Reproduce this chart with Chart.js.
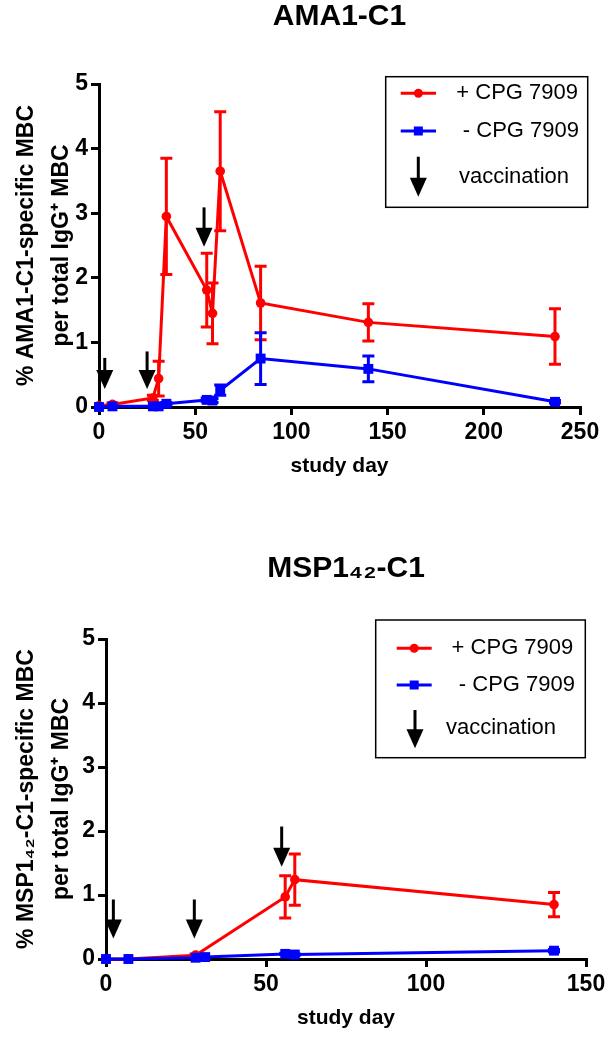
<!DOCTYPE html>
<html>
<head>
<meta charset="utf-8">
<script src="https://cdn.jsdelivr.net/npm/chart.js@4.4.1/dist/chart.umd.min.js"></script>
<style>
html,body{margin:0;padding:0;background:#fff;}
canvas{display:block;}
</style>
</head>
<body>
<canvas id="ama" width="614" height="525"></canvas>
<canvas id="msp" width="614" height="525"></canvas>
<script>
// ---------- text ----------
const amaTitle = 'AMA1-C1';
const amaYTitle = ['% AMA1-C1-specific MBC', 'per total IgG\u207A MBC'];
const mspTitle = 'MSP1\u2084\u2082-C1';
const mspYTitle = ['% MSP1\u2084\u2082-C1-specific MBC', 'per total IgG\u207A MBC'];
const xTitle = 'study day';
const legendLabels = ['+ CPG 7909', '- CPG 7909', 'vaccination'];

// ---------- AMA1-C1 data ----------
const amaXTicks = [0, 50, 100, 150, 200, 250];
const amaYTicks = [0, 1, 2, 3, 4, 5];
const amaPlusDays = [0, 7, 28, 31, 35, 56, 59, 63, 84, 140, 237];
const amaPlusMean = [0.02, 0.04, 0.14, 0.44, 2.95, 1.81, 1.45, 3.65, 1.61, 1.31, 1.09];
const amaPlusSem  = [0, 0.02, 0.04, 0.27, 0.90, 0.57, 0.47, 0.92, 0.57, 0.29, 0.43];
const amaMinusDays = [0, 7, 28, 31, 35, 56, 59, 63, 84, 140, 237];
const amaMinusMean = [0, 0.01, 0.01, 0.01, 0.05, 0.11, 0.10, 0.26, 0.75, 0.59, 0.08];
const amaMinusSem  = [0, 0, 0, 0, 0.02, 0.03, 0.03, 0.08, 0.40, 0.20, 0.02];
const amaVaccDays = [3, 25, 54.6];
const amaVaccTop  = [0.76, 0.86, 3.09];
const amaVaccTip  = [0.28, 0.28, 2.48];

// ---------- MSP1-42-C1 data ----------
const mspXTicks = [0, 50, 100, 150];
const mspYTicks = [0, 1, 2, 3, 4, 5];
const mspPlusDays = [0, 7, 28, 56, 59, 140];
const mspPlusMean = [0, 0, 0.06, 0.97, 1.24, 0.85];
const mspPlusSem  = [0, 0, 0.02, 0.33, 0.40, 0.19];
const mspMinusDays = [0, 7, 28, 31, 56, 59, 140];
const mspMinusMean = [0, 0, 0.02, 0.03, 0.08, 0.07, 0.13];
const mspMinusSem  = [0, 0, 0, 0, 0.01, 0.01, 0.02];
const mspVaccDays = [2.3, 27.6, 54.9];
const mspVaccTop  = [0.93, 0.93, 2.07];
const mspVaccTip  = [0.32, 0.32, 1.44];

const RED = '#FF0000';
const BLUE = '#0000FF';
const FONT = "'Liberation Sans', Arial, Helvetica, sans-serif";
Chart.defaults.font.family = FONT;
Chart.defaults.color = '#000';

function pts(days, vals) { return days.map((d, i) => ({x: d, y: vals[i]})); }

// ---------- plugins ----------
const errorBarPlugin = {
  id: 'errorBars',
  beforeDatasetDraw(chart, args) {
    const ds = chart.data.datasets[args.index];
    if (!ds.sem) return;
    const xs = chart.scales.x, ys = chart.scales.y, ctx = chart.ctx;
    ctx.save();
    ctx.strokeStyle = ds.borderColor;
    ctx.lineWidth = 3;
    ds.data.forEach((p, i) => {
      const e = ds.sem[i];
      if (!e) return;
      const x = xs.getPixelForValue(p.x);
      const yHi = ys.getPixelForValue(p.y + e);
      const yLo = ys.getPixelForValue(Math.max(0, p.y - e));
      ctx.beginPath();
      ctx.moveTo(x, yHi); ctx.lineTo(x, yLo);
      ctx.moveTo(x - 6, yHi); ctx.lineTo(x + 6, yHi);
      ctx.moveTo(x - 6, yLo); ctx.lineTo(x + 6, yLo);
      ctx.stroke();
    });
    ctx.restore();
  }
};

function drawArrow(ctx, x, y1, y2) {
  const headH = 19, headW = 8.5;
  ctx.beginPath();
  ctx.moveTo(x, y1);
  ctx.lineTo(x, y2 - headH + 2);
  ctx.stroke();
  ctx.beginPath();
  ctx.moveTo(x - headW, y2 - headH);
  ctx.lineTo(x + headW, y2 - headH);
  ctx.lineTo(x, y2);
  ctx.closePath();
  ctx.fill();
}

const arrowPlugin = {
  id: 'vaccArrows',
  afterDatasetsDraw(chart, args, o) {
    const xs = chart.scales.x, ys = chart.scales.y, ctx = chart.ctx;
    ctx.save();
    ctx.strokeStyle = '#000'; ctx.fillStyle = '#000'; ctx.lineWidth = 3;
    o.days.forEach((d, i) => {
      drawArrow(ctx, xs.getPixelForValue(d), ys.getPixelForValue(o.top[i]), ys.getPixelForValue(o.tip[i]));
    });
    ctx.restore();
  }
};

const boxLegendPlugin = {
  id: 'boxLegend',
  afterDraw(chart, args, o) {
    const ctx = chart.ctx;
    ctx.save();
    ctx.strokeStyle = '#000'; ctx.lineWidth = 1.5;
    ctx.strokeRect(o.box[0], o.box[1], o.box[2] - o.box[0], o.box[3] - o.box[1]);
    const dsets = chart.data.datasets;
    const mid = (o.lineX[0] + o.lineX[1]) / 2;
    [0, 1].forEach(k => {
      const ds = dsets[k];
      const y = o.rows[k];
      ctx.strokeStyle = ds.borderColor; ctx.lineWidth = 3;
      ctx.beginPath(); ctx.moveTo(o.lineX[0], y); ctx.lineTo(o.lineX[1], y); ctx.stroke();
      ctx.fillStyle = ds.borderColor;
      if (ds.pointStyle === 'rect') {
        ctx.fillRect(mid - 4.5, y - 4.5, 9, 9);
      } else {
        ctx.beginPath(); ctx.arc(mid, y, 4.5, 0, Math.PI * 2); ctx.fill();
      }
    });
    ctx.fillStyle = '#000';
    ctx.font = '22px ' + FONT;
    ctx.textBaseline = 'middle';
    ctx.textAlign = 'right';
    ctx.fillText(o.labels[0], o.textRight[0], o.rows[0]);
    ctx.fillText(o.labels[1], o.textRight[1], o.rows[1]);
    ctx.textAlign = 'left';
    ctx.fillText(o.labels[2], o.textLeft, o.rows[2]);
    ctx.strokeStyle = '#000'; ctx.fillStyle = '#000'; ctx.lineWidth = 3;
    drawArrow(ctx, o.arrowX, o.arrowY[0], o.arrowY[1]);
    ctx.restore();
  }
};

function makeChart(id, cfg) {
  return new Chart(document.getElementById(id), {
    type: 'line',
    data: {
      datasets: [
        {
          label: legendLabels[0], data: pts(cfg.plusDays, cfg.plusMean), sem: cfg.plusSem,
          borderColor: RED, backgroundColor: RED, borderWidth: 3,
          pointStyle: 'circle', pointRadius: 4.8, pointBackgroundColor: RED, pointBorderWidth: 0,
          tension: 0, fill: false, clip: false, order: 1
        },
        {
          label: legendLabels[1], data: pts(cfg.minusDays, cfg.minusMean), sem: cfg.minusSem,
          borderColor: BLUE, backgroundColor: BLUE, borderWidth: 3,
          pointStyle: 'rect', pointRadius: 7, pointBackgroundColor: BLUE, pointBorderWidth: 0,
          tension: 0, fill: false, clip: false, order: 0
        }
      ]
    },
    options: {
      responsive: false, animation: false, events: [],
      layout: {padding: {left: 0, right: cfg.padRight, top: 0, bottom: 0}},
      plugins: {
        legend: {display: false},
        tooltip: {enabled: false},
        title: {
          display: true, text: cfg.title, color: '#000', fullSize: false,
          font: {family: FONT, size: 30, weight: 'bold', lineHeight: 1.1},
          padding: {top: cfg.titlePad[0], bottom: cfg.titlePad[1]}
        },
        vaccArrows: {days: cfg.vaccDays, top: cfg.vaccTop, tip: cfg.vaccTip},
        boxLegend: cfg.legend
      },
      scales: {
        x: {
          type: 'linear', min: cfg.xTicks[0], max: cfg.xTicks[cfg.xTicks.length - 1],
          afterBuildTicks(s) { s.ticks = cfg.xTicks.map(v => ({value: v})); },
          ticks: {autoSkip: false, maxRotation: 0, color: '#000', padding: 4,
                  font: {family: FONT, size: 23, weight: 'bold'}},
          grid: {display: true, drawOnChartArea: false, drawTicks: true, tickLength: 8, lineWidth: 3, color: '#000'},
          border: {display: true, color: '#000', width: 3},
          title: {display: true, text: xTitle, color: '#000',
                  font: {family: FONT, size: 21, weight: 'bold', lineHeight: 1.2},
                  padding: {top: 0, bottom: cfg.xTitlePad}},
          afterFit(s) { s.height = cfg.xHeight; }
        },
        y: {
          type: 'linear', min: cfg.yTicks[0], max: cfg.yTicks[cfg.yTicks.length - 1],
          afterBuildTicks(s) { s.ticks = cfg.yTicks.map(v => ({value: v})); },
          ticks: {autoSkip: false, color: '#000', padding: 3,
                  font: {family: FONT, size: 23, weight: 'bold'}},
          grid: {display: true, drawOnChartArea: false, drawTicks: true, tickLength: 8, lineWidth: 3, color: '#000'},
          border: {display: true, color: '#000', width: 3},
          title: {display: true, text: cfg.yTitle, color: '#000',
                  font: {family: FONT, size: 23, weight: 'bold', lineHeight: 35 / 23},
                  padding: {top: 9, bottom: 0}},
          afterFit(s) { s.width = cfg.yWidth; }
        }
      }
    },
    plugins: [errorBarPlugin, arrowPlugin, boxLegendPlugin]
  });
}

makeChart('ama', {
  title: amaTitle, yTitle: amaYTitle, xTicks: amaXTicks, yTicks: amaYTicks,
  plusDays: amaPlusDays, plusMean: amaPlusMean, plusSem: amaPlusSem,
  minusDays: amaMinusDays, minusMean: amaMinusMean, minusSem: amaMinusSem,
  vaccDays: amaVaccDays, vaccTop: amaVaccTop, vaccTip: amaVaccTip,
  padRight: 34, titlePad: [0, 51], xHeight: 118, xTitlePad: 46.4, yWidth: 99,
  legend: {labels: legendLabels, box: [385.7, 76.7, 587.7, 207.3], rows: [93.3, 131, 176.7],
           lineX: [400.7, 436], textRight: [578, 579], textLeft: 459,
           arrowX: 418.3, arrowY: [156.7, 196.7]}
});

makeChart('msp', {
  title: mspTitle, yTitle: mspYTitle, xTicks: mspXTicks, yTicks: mspYTicks,
  plusDays: mspPlusDays, plusMean: mspPlusMean, plusSem: mspPlusSem,
  minusDays: mspMinusDays, minusMean: mspMinusMean, minusSem: mspMinusSem,
  vaccDays: mspVaccDays, vaccTop: mspVaccTop, vaccTip: mspVaccTip,
  padRight: 28, titlePad: [27, 54], xHeight: 91, xTitlePad: 19.4, yWidth: 106,
  legend: {labels: legendLabels, box: [375.7, 95, 585.3, 232.7], rows: [123.3, 160, 203.3],
           lineX: [396.7, 431.7], textRight: [573.3, 575], textLeft: 446,
           arrowX: 415, arrowY: [185, 223.3]}
});
</script>
</body>
</html>
